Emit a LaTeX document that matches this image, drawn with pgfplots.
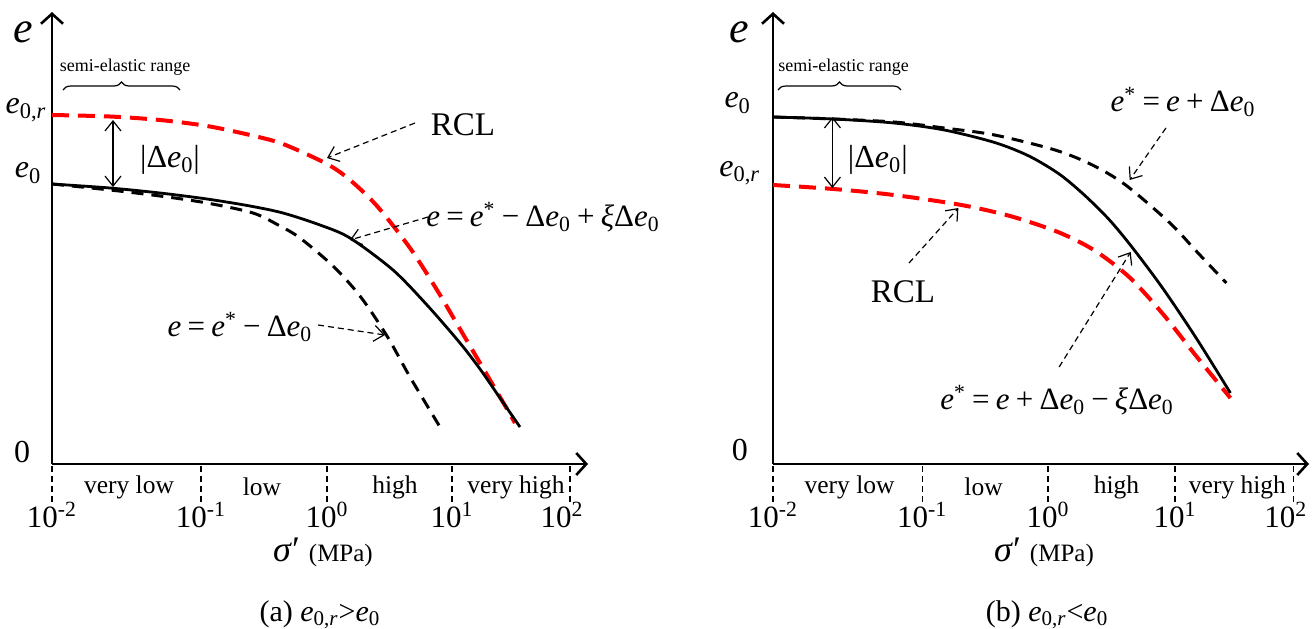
\documentclass[border=0pt]{standalone}
\usepackage{fontspec}
\setmainfont{Liberation Serif}
\usepackage{pgfplots}
\pgfplotsset{compat=1.18}
\usetikzlibrary{arrows.meta,decorations.pathreplacing}
\newcommand{\fs}[1]{\fontsize{#1}{#1}\selectfont}
\newcommand{\E}{\textit{e}}
\newcommand{\gap}{\hspace{0.2em}}
\tikzset{
  annot/.style={line width=0.6pt, dash pattern=on 3pt off 2pt, -{Straight Barb[length=5pt,width=8pt,line width=0.6pt]}},
  dbl/.style={line width=0.6pt, {Straight Barb[length=5pt,width=8pt,line width=0.6pt]}-{Straight Barb[length=5pt,width=8pt,line width=0.6pt]}},
  brc/.style={line width=0.6pt, decorate, decoration={brace, amplitude=4pt}},
}
\pgfplotsset{
  panel/.style={
    scale only axis, anchor=south west,
    width=268pt, height=226pt,
    xmin=0, ymin=0, ymax=452,
    axis lines=left, clip=false,
    axis line style={line width=1.4pt, -{Straight Barb[length=5pt,width=11pt,line width=1.3pt]}},
    ytick=\empty,
    tick align=outside, major tick length=19pt,
    x tick style={black, line width=0.6pt, dash pattern=on 3pt off 2pt},
    xticklabel style={font=\fs{15.5}, anchor=north, inner sep=0pt, yshift=0pt},
    xticklabels={10\textsuperscript{-2},10\textsuperscript{-1},10\textsuperscript{0},10\textsuperscript{1},10\textsuperscript{2}\hbox to 8pt{}},
  },
  rcl/.style={red, line width=2pt, dash pattern=on 8.5pt off 4.5pt, smooth},
  sol/.style={black, line width=1.4pt, smooth},
  dsh/.style={black, line width=1.5pt, dash pattern=on 6pt off 4pt, smooth},
}
\begin{document}
\begin{tikzpicture}
% ---------------- panel (a) ----------------
\begin{axis}[panel, at={(26pt,82pt)}, xmax=536, xtick={0,149,275,400,518}]
\addplot[rcl] coordinates {(0,349) (58,347.5) (108,344) (155,338) (198,329) (231,320) (275,300) (298,284) (325,258) (358,216) (385,174) (408,135) (428,101) (455,55) (463,41)};
\addplot[dsh] coordinates {(0,280) (58,274) (108,268) (155,261) (201,251) (228,238) (248,226) (281,198) (308,168) (335,128) (358,87) (388,37)};
\addplot[sol] coordinates {(0,280) (58,276) (108,271) (155,265) (198,258) (231,251) (268,239) (298,226) (341,194) (375,159) (408,121) (428,95) (448,66) (468,37)};
\draw[dbl] (axis cs:61,344) -- (axis cs:61,277);
\node[font=\fs{16}] at (axis cs:118,304) {|Δ\E\textsubscript{0}|};
\node[font=\fs{16.5}] at (axis cs:411,339) {RCL};
\draw[annot] (axis cs:363,341) -- (axis cs:275,306);
\node[font=\fs{15.5}] at (axis cs:491,247) {\E\gap=\gap\E\textsuperscript{*}\gap−\gap Δ\E\textsubscript{0}\gap+\gap\textit{ξ}Δ\E\textsubscript{0}};
\draw[annot] (axis cs:376,247) -- (axis cs:298,224);
\node[font=\fs{15.5}] at (axis cs:188,137) {\E\gap=\gap\E\textsuperscript{*}\gap−\gap Δ\E\textsubscript{0}};
\draw[annot] (axis cs:266,139) -- (axis cs:333,129);
\node[font=\fs{9}] at (axis cs:73,397) {semi-elastic range};
\draw[brc] (axis cs:11,374) -- (axis cs:128,374);
\node[font=\fs{22}] at (axis cs:-29,432) {\E};
\node[font=\fs{16}] at (axis cs:-26,354) {\E\textsubscript{0,\textit{r}}};
\node[font=\fs{16}] at (axis cs:-24,291) {\E\textsubscript{0}};
\node[font=\fs{16}] at (axis cs:-30,12) {0};
\node[font=\fs{12.75}] at (axis cs:77,-23) {very low};
\node[font=\fs{12.75}] at (axis cs:210,-23) {low};
\node[font=\fs{12.75}] at (axis cs:343,-23) {high};
\node[font=\fs{12.75}] at (axis cs:464,-23) {very high};
\node at (axis cs:271,-88) {\fs{18}\textit{σ}′\hspace{0.25em}\fs{12.5}(MPa)};
\node[font=\fs{15}] at (axis cs:268,-151) {(a) \E\textsubscript{0,\textit{r}}>\E\textsubscript{0}};
\end{axis}
% ---------------- panel (b) ----------------
\begin{axis}[panel, at={(386.5pt,82pt)}, xmax=532, xtick={0,148,273,399,517}]
\addplot[rcl] coordinates {(0,279) (60,275) (120,269) (187,259) (237,247.5) (284,231.5) (320,213) (354,186.5) (387,150) (420,108) (454,66)};
\addplot[dsh] coordinates {(0,347) (60,345) (120,342) (170,336) (220,329) (280,314) (317,299) (350,279) (394,241) (420,213) (450,181)};
\addplot[sol] coordinates {(0,347) (60,345) (120,341) (170,334) (220,321.5) (254,308) (284,290) (309,269) (334,244) (357,216) (387,175.5) (420,126) (454,71)};
\draw[dbl] (axis cs:59,347) -- (axis cs:59,276);
\node[font=\fs{16}] at (axis cs:104,304) {|Δ\E\textsubscript{0}|};
\node[font=\fs{15.5}] at (axis cs:407,362) {\E\textsuperscript{*}\gap=\gap\E\gap+\gap Δ\E\textsubscript{0}};
\draw[annot] (axis cs:390,336) -- (axis cs:354,284);
\node[font=\fs{16.5}] at (axis cs:129,172) {RCL};
\draw[annot] (axis cs:135,201) -- (axis cs:184,256);
\node[font=\fs{15.5}] at (axis cs:282,64) {\E\textsuperscript{*}\gap=\gap\E\gap+\gap Δ\E\textsubscript{0}\gap−\gap\textit{ξ}Δ\E\textsubscript{0}};
\draw[annot] (axis cs:284,97) -- (axis cs:355,212);
\node[font=\fs{9}] at (axis cs:70,397) {semi-elastic range};
\draw[brc] (axis cs:5,374) -- (axis cs:127,374);
\node[font=\fs{22}] at (axis cs:-33,432) {\E};
\node[font=\fs{16}] at (axis cs:-35,361) {\E\textsubscript{0}};
\node[font=\fs{16}] at (axis cs:-33,291) {\E\textsubscript{0,\textit{r}}};
\node[font=\fs{16}] at (axis cs:-33,14) {0};
\node[font=\fs{12.75}] at (axis cs:76,-23) {very low};
\node[font=\fs{12.75}] at (axis cs:209,-23) {low};
\node[font=\fs{12.75}] at (axis cs:341,-23) {high};
\node[font=\fs{12.75}] at (axis cs:461,-23) {very high};
\node at (axis cs:269,-88) {\fs{18}\textit{σ}′\hspace{0.25em}\fs{12.5}(MPa)};
\node[font=\fs{15}] at (axis cs:272,-151) {(b) \E\textsubscript{0,\textit{r}}<\E\textsubscript{0}};
\end{axis}
\pgfresetboundingbox
\path[use as bounding box] (0,0) rectangle (656pt,314pt);
\end{tikzpicture}
\end{document}
